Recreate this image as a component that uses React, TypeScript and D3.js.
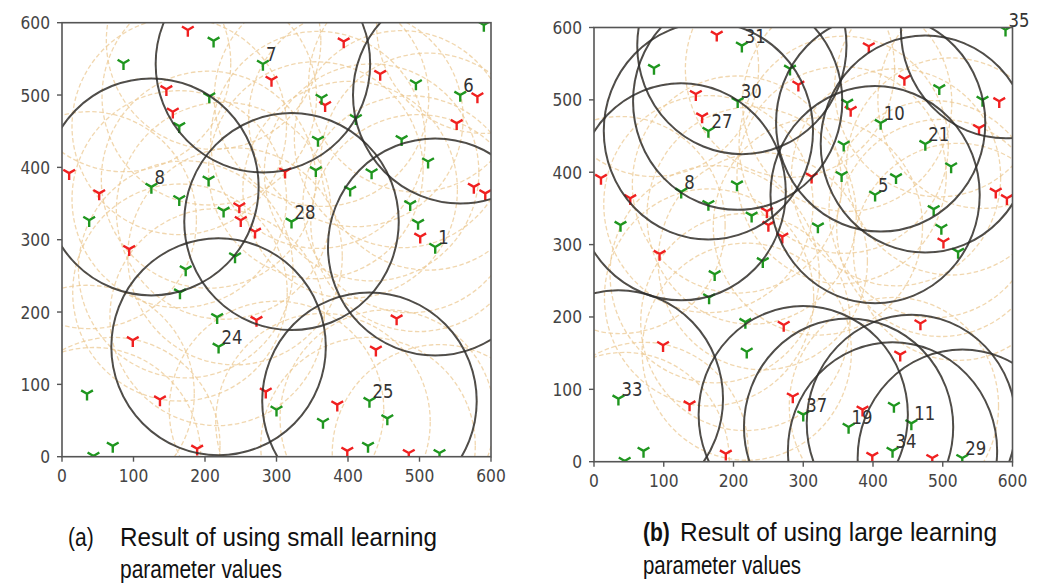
import React from "react";
import * as d3 from "d3";

// ---------- DATA ----------
// sensors (green tri markers): id, x, y
const sensors: { id: number; x: number; y: number }[] = [
  { id: 31, x: 212, y: 575 },
  { id: 0, x: 86, y: 544 },
  { id: 30, x: 206, y: 498 },
  { id: 27, x: 164, y: 457 },
  { id: 2, x: 205, y: 383 },
  { id: 8, x: 125, y: 373 },
  { id: 3, x: 164, y: 356 },
  { id: 4, x: 38, y: 327 },
  { id: 9, x: 226, y: 340 },
  { id: 35, x: 590, y: 597 },
  { id: 7, x: 281, y: 543 },
  { id: 12, x: 495, y: 516 },
  { id: 6, x: 557, y: 500 },
  { id: 13, x: 363, y: 496 },
  { id: 10, x: 411, y: 468 },
  { id: 14, x: 358, y: 438 },
  { id: 21, x: 475, y: 439 },
  { id: 15, x: 355, y: 396 },
  { id: 16, x: 512, y: 408 },
  { id: 17, x: 433, y: 393 },
  { id: 5, x: 403, y: 369 },
  { id: 18, x: 487, y: 349 },
  { id: 28, x: 321, y: 325 },
  { id: 20, x: 498, y: 323 },
  { id: 1, x: 522, y: 290 },
  { id: 37, x: 300, y: 65 },
  { id: 25, x: 430, y: 77 },
  { id: 11, x: 455, y: 53 },
  { id: 19, x: 365, y: 48 },
  { id: 34, x: 428, y: 15 },
  { id: 29, x: 528, y: 5 },
  { id: 22, x: 173, y: 259 },
  { id: 23, x: 242, y: 277 },
  { id: 26, x: 165, y: 227 },
  { id: 32, x: 217, y: 193 },
  { id: 24, x: 219, y: 152 },
  { id: 33, x: 35, y: 87 },
  { id: 36, x: 71, y: 15 },
  { id: 38, x: 44, y: 1 },
];

// targets (red tri markers)
const targets: [number, number][] = [
  [176, 590], [394, 574], [146, 508], [293, 521], [445, 529], [155, 477],
  [581, 498], [368, 486], [552, 461], [10, 392], [312, 394], [52, 364],
  [576, 373], [592, 364], [248, 346], [250, 327], [270, 311], [501, 304],
  [94, 287], [272, 189], [468, 191], [99, 161], [439, 148], [285, 90],
  [137, 79], [385, 72], [399, 8], [485, 5], [189, 11],
];

// selected sensors (black circles) in each panel
const selectedA: number[] = [1, 6, 7, 8, 24, 25, 28];
const selectedB: number[] = [5, 8, 10, 11, 19, 21, 27, 29, 30, 31, 33, 34, 35, 37];

const sensingRadius = 150;
const tickValues: number[] = [0, 100, 200, 300, 400, 500, 600];
const domain: [number, number] = [0, 600];

const captionA: string[] = ["(a)", "Result of using small learning", "parameter values"];
const captionB: string[] = ["(b)", "Result of using large learning", "parameter values"];

// ---------- LAYOUT ----------
const panels = [
  { key: "a", x0: 62, x1: 491, yTop: 22.7, yBot: 456.7, selected: selectedA },
  { key: "b", x0: 594, x1: 1012.5, yTop: 27.5, yBot: 461.7, selected: selectedB },
];

const GREEN = "#1f961f";
const RED = "#f02020";
const TAN = "#ecc994";
const DARK = "#2b2b2b";

function triDown(r: number) {
  const a = 0.866 * r;
  const b = 0.5 * r;
  return `M0,0L0,${r}M0,0L${-a},${-b}M0,0L${a},${-b}`;
}

function Panel({ p }: { p: (typeof panels)[number] }) {
  const x = d3.scaleLinear().domain(domain).range([p.x0, p.x1]);
  const y = d3.scaleLinear().domain(domain).range([p.yBot, p.yTop]);
  const rx = x(sensingRadius) - x(0);
  const ry = y(0) - y(sensingRadius);
  const clipId = `clip-${p.key}`;
  const marker = triDown(6.8);
  const sel = p.selected
    .map((id) => sensors.find((s) => s.id === id))
    .filter(Boolean) as { id: number; x: number; y: number }[];
  return (
    <g>
      <defs>
        <clipPath id={clipId}>
          <rect x={p.x0} y={p.yTop} width={p.x1 - p.x0} height={p.yBot - p.yTop} />
        </clipPath>
      </defs>
      <g clipPath={`url(#${clipId})`}>
        {sensors.map((s) => (
          <ellipse
            key={`t${s.id}`}
            cx={x(s.x)}
            cy={y(s.y)}
            rx={rx}
            ry={ry}
            fill="none"
            stroke={TAN}
            strokeWidth={1.3}
            strokeDasharray="4.5,2.5"
            opacity={0.75}
          />
        ))}
        {targets.map((t, i) => (
          <path
            key={`r${i}`}
            d={marker}
            transform={`translate(${x(t[0])},${y(t[1])})`}
            stroke={RED}
            strokeWidth={2.4}
            fill="none"
          />
        ))}
        {sensors.map((s) => (
          <path
            key={`g${s.id}`}
            d={marker}
            transform={`translate(${x(s.x)},${y(s.y)})`}
            stroke={GREEN}
            strokeWidth={2.4}
            fill="none"
          />
        ))}
        {sel.map((s) => (
          <ellipse
            key={`b${s.id}`}
            cx={x(s.x)}
            cy={y(s.y)}
            rx={rx}
            ry={ry}
            fill="none"
            stroke={DARK}
            strokeWidth={2}
            opacity={0.82}
          />
        ))}
      </g>
      {sel.map((s) => (
        <text
          key={`l${s.id}`}
          transform={`translate(${x(s.x) + 3},${y(s.y) - 3}) scale(1,1.15)`}
          fontFamily="DejaVu Sans"
          fontSize={16.5}
          fill="#333"
        >
          {s.id}
        </text>
      ))}
      <rect
        x={p.x0}
        y={p.yTop}
        width={p.x1 - p.x0}
        height={p.yBot - p.yTop}
        fill="none"
        stroke="#555"
        strokeWidth={1.6}
      />
      {tickValues.map((v) => (
        <g key={`xt${v}`}>
          <line x1={x(v)} x2={x(v)} y1={p.yBot} y2={p.yBot + 5} stroke="#555" strokeWidth={1.4} />
          <text
            transform={`translate(${x(v)},${p.yBot + 25}) scale(1,1.15)`}
            textAnchor="middle"
            fontFamily="DejaVu Sans"
            fontSize={15.5}
            fill="#444"
          >
            {v}
          </text>
        </g>
      ))}
      {tickValues.map((v) => (
        <g key={`yt${v}`}>
          <line x1={p.x0 - 5} x2={p.x0} y1={y(v)} y2={y(v)} stroke="#555" strokeWidth={1.4} />
          <text
            transform={`translate(${p.x0 - 12},${y(v) + 6.5}) scale(1,1.15)`}
            textAnchor="end"
            fontFamily="DejaVu Sans"
            fontSize={15.5}
            fill="#444"
          >
            {v}
          </text>
        </g>
      ))}
    </g>
  );
}

function Caption({ x, y, size, text, width, bold }: { x: number; y: number; size: number; text: string; width?: number; bold?: boolean }) {
  return (
    <text
      transform={`translate(${x},${y}) scale(1,1.2)`}
      fontSize={size}
      fontWeight={bold ? "bold" : "normal"}
      textLength={width}
      lengthAdjust={width ? "spacingAndGlyphs" : undefined}
    >
      {text}
    </text>
  );
}

export default function App() {
  const capFont = "Liberation Sans, Arial, sans-serif";
  return (
    <svg
      width={1045}
      height={585}
      style={{ position: "absolute", left: 0, top: 0, background: "#fff" }}
    >
      <rect width={1045} height={585} fill="#fff" />
      {panels.map((p) => (
        <Panel key={p.key} p={p} />
      ))}
      <g fontFamily={capFont} fill="#111">
        <Caption x={68} y={546} size={21} text={captionA[0]} />
        <Caption x={120} y={546} size={22} text={captionA[1]} width={317} />
        <Caption x={120} y={578} size={22} text={captionA[2]} width={162} />
        <Caption x={643} y={541} size={21} text={captionB[0]} bold />
        <Caption x={680} y={541} size={22} text={captionB[1]} width={317} />
        <Caption x={643} y={574} size={22} text={captionB[2]} width={158} />
      </g>
    </svg>
  );
}
